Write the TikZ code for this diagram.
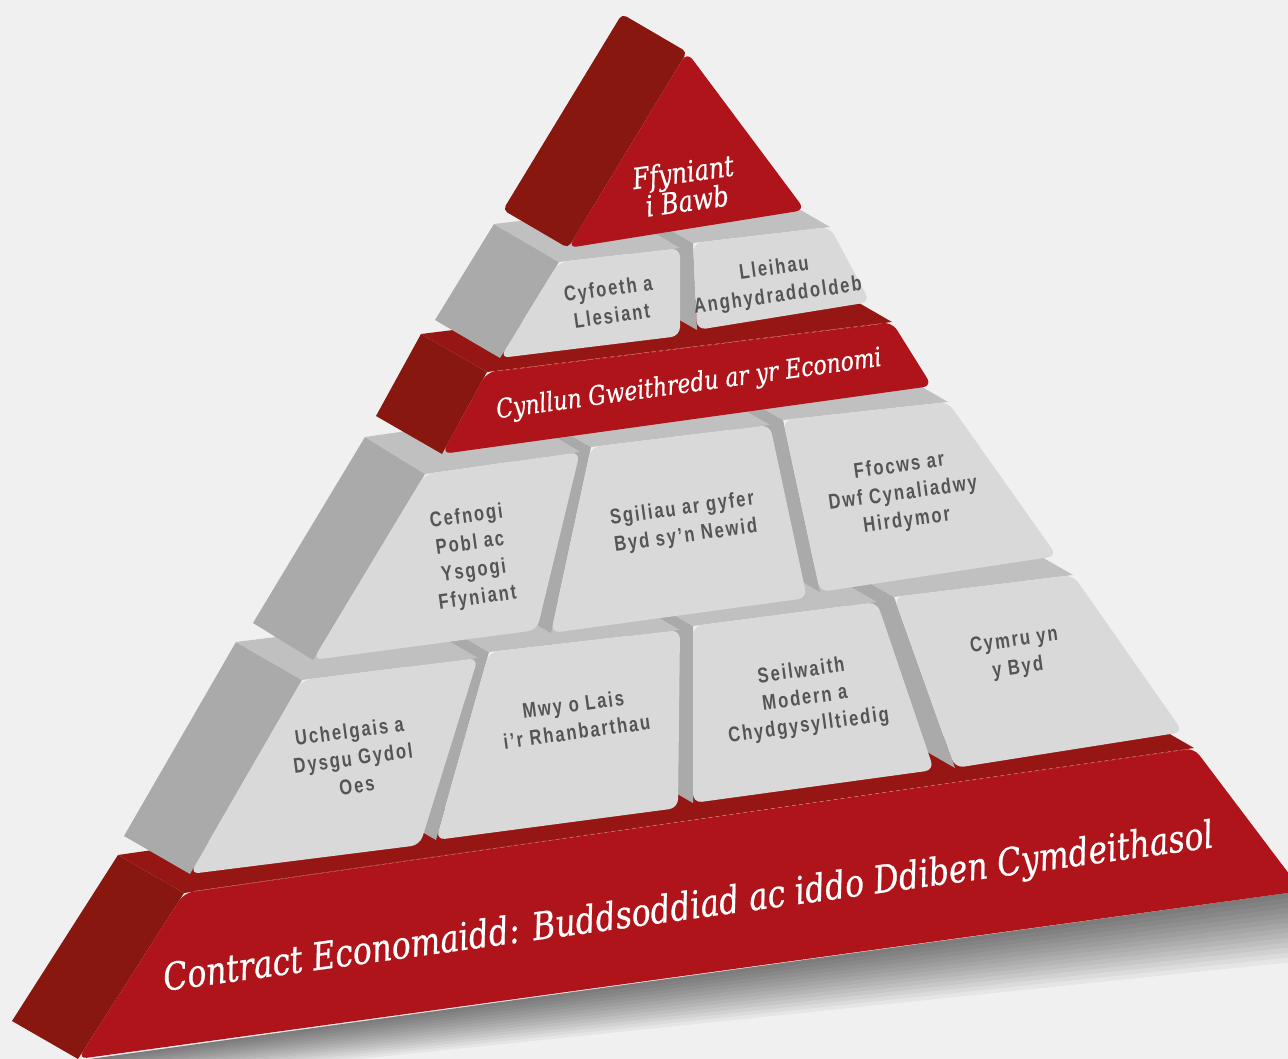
\documentclass[tikz,border=0pt]{standalone}
\usepackage{fontspec}
\setmainfont{Liberation Sans}
\newfontfamily\slabfont{DejaVu Serif}[FakeStretch=0.83,FakeBold=0.6]
\newfontfamily\blockfont{Liberation Sans}[FakeStretch=0.78,LetterSpace=9]
\definecolor{paper}{RGB}{240,240,240}
\definecolor{pyrred}{RGB}{174,20,25}
\definecolor{pyrredside}{RGB}{136,23,16}
\definecolor{pyrredtop}{RGB}{150,22,20}
\definecolor{pyrgrey}{RGB}{217,217,217}
\definecolor{pyrgreyside}{RGB}{170,170,170}
\definecolor{pyrgreytop}{RGB}{192,192,192}
\definecolor{labelgrey}{RGB}{85,85,85}
\begin{document}
\begin{tikzpicture}[x=1pt,y=-1pt,
        redface/.style={fill=pyrred,rounded corners=9pt},
        redside/.style={fill=pyrredside},
        redtop/.style={fill=pyrredtop},
        greyface/.style={fill=pyrgrey,rounded corners=9pt},
        greyside/.style={fill=pyrgreyside},
        greytop/.style={fill=pyrgreytop},
        crease/.style={draw=pyrred!55!white,dash pattern=on 4pt off 3pt,line width=0.5pt},
        redlabel/.style={text=white,rotate=7.8,inner sep=0pt,align=center},
        greylabel/.style={text=labelgrey,rotate=7.8,inner sep=0pt,align=center,font=\blockfont\bfseries\fontsize{21.3}{27.5}\selectfont}]
        \useasboundingbox (0,0) rectangle (1288,1059);
        \clip (0,0) rectangle (1288,1059);
        \fill[paper] (0,0) rectangle (1288,1059);

        \foreach \i in {1,...,14}
                \fill[black,opacity=0.045] (90,1059) -- (1302,891) -- (1302,891+5*\i) -- (90,1059+2*\i) -- cycle;

        \fill[redtop] (184,893) -- (1194,748) -- (1128,710) -- (118,855) -- cycle;
        \fill[redside] (78,1059) -- (184,893) -- (118,855) -- (12,1021) -- cycle;
        \fill[redface] (184,893) -- (1194,748) -- (1302,891) -- (78,1059) -- cycle;
        \draw[crease] (196,891) -- (1182,750);

        \fill[greyside] (955,768) -- (894,597) -- (828,559) -- (889,730) -- cycle;
        \fill[greytop] (894,597) -- (1073,575) -- (1007,537) -- (828,559) -- cycle;
        \fill[greyface] (894,597) -- (1073,575) -- (1183,732) -- (955,768) -- cycle;
        \fill[greyside] (693,803) -- (693,626) -- (627,588) -- (627,765) -- cycle;
        \fill[greytop] (693,626) -- (877,602) -- (811,564) -- (627,588) -- cycle;
        \fill[greyface] (693,626) -- (877,602) -- (934,770) -- (693,803) -- cycle;
        \fill[greyside] (436,840) -- (489,652) -- (423,614) -- (370,802) -- cycle;
        \fill[greytop] (489,652) -- (680,630) -- (614,592) -- (423,614) -- cycle;
        \fill[greyface] (489,652) -- (680,630) -- (678,808) -- (436,840) -- cycle;
        \fill[greyside] (190,874) -- (302,680) -- (236,642) -- (124,836) -- cycle;
        \fill[greytop] (302,680) -- (478,658) -- (412,620) -- (236,642) -- cycle;
        \fill[greyface] (302,680) -- (478,658) -- (420,845) -- (190,874) -- cycle;

        \fill[greyside] (820,592) -- (783,420) -- (717,382) -- (754,554) -- cycle;
        \fill[greytop] (783,420) -- (948,402) -- (882,364) -- (717,382) -- cycle;
        \fill[greyface] (783,420) -- (948,402) -- (1057,556) -- (820,592) -- cycle;
        \fill[greyside] (551,633) -- (591,447) -- (525,409) -- (485,595) -- cycle;
        \fill[greytop] (591,447) -- (770,425) -- (704,387) -- (525,409) -- cycle;
        \fill[greyface] (591,447) -- (770,425) -- (807,598) -- (551,633) -- cycle;
        \fill[greyside] (313,660) -- (425,474) -- (365,437) -- (253,623) -- cycle;
        \fill[greytop] (425,474) -- (580,452) -- (520,415) -- (365,437) -- cycle;
        \fill[greyface] (425,474) -- (580,452) -- (537,630) -- (313,660) -- cycle;

        \fill[redtop] (487,372) -- (892,322) -- (826,284) -- (421,334) -- cycle;
        \fill[redside] (442,454) -- (487,372) -- (421,334) -- (376,416) -- cycle;
        \fill[redface] (487,372) -- (892,322) -- (932,386) -- (442,454) -- cycle;
        \draw[crease] (499,371) -- (880,324);

        \fill[greyside] (697,330) -- (693,243) -- (627,205) -- (631,292) -- cycle;
        \fill[greytop] (693,243) -- (830,227) -- (764,189) -- (627,205) -- cycle;
        \fill[greyface] (693,243) -- (830,227) -- (870,302) -- (697,330) -- cycle;
        \fill[greyside] (500,358) -- (559,262) -- (494,224) -- (435,320) -- cycle;
        \fill[greytop] (559,262) -- (680,248) -- (615,210) -- (494,224) -- cycle;
        \fill[greyface] (559,262) -- (680,248) -- (680,336) -- (500,358) -- cycle;

        \fill[redside,rounded corners=5pt] (568,248) -- (687,52) -- (622,14) -- (503,210) -- cycle;
        \fill[redface] (568,248) -- (687,52) -- (805,210) -- cycle;

        \node[redlabel,font=\slabfont\itshape\fontsize{29}{29}\selectfont] (ffyniant) at (685,186) {Ffyniant\\i Bawb};
        \node[greylabel] (cyfoeth) at (610,302) {Cyfoeth a\\Llesiant};
        \node[greylabel] (lleihau) at (776,283) {Lleihau\\Anghydraddoldeb};
        \node[redlabel,anchor=base,font=\slabfont\itshape\fontsize{26.5}{28}\selectfont] (cynllun) at (690,392) {Cynllun Gweithredu ar yr Economi};
        \node[greylabel] (cefnogi) at (472,558) {Cefnogi\\Pobl ac\\Ysgogi\\Ffyniant};
        \node[greylabel] (sgiliau) at (684,523) {Sgiliau ar gyfer\\Byd sy’n Newid};
        \node[greylabel] (ffocws) at (903,494) {Ffocws ar\\Dwf Cynaliadwy\\Hirdymor};
        \node[greylabel] (uchelgais) at (353,758) {Uchelgais a\\Dysgu Gydol\\Oes};
        \node[greylabel] (mwy) at (575,718) {Mwy o Lais\\i’r Rhanbarthau};
        \node[greylabel] (seilwaith) at (805,699) {Seilwaith\\Modern a\\Chydgysylltiedig};
        \node[greylabel] (cymru) at (1016,655) {Cymru yn\\y Byd};
        \node[redlabel,anchor=base,font=\slabfont\itshape\fontsize{38}{40}\selectfont] (contract) at (690,919) {Contract Economaidd: Buddsoddiad ac iddo Ddiben Cymdeithasol};
\end{tikzpicture}
\end{document}
